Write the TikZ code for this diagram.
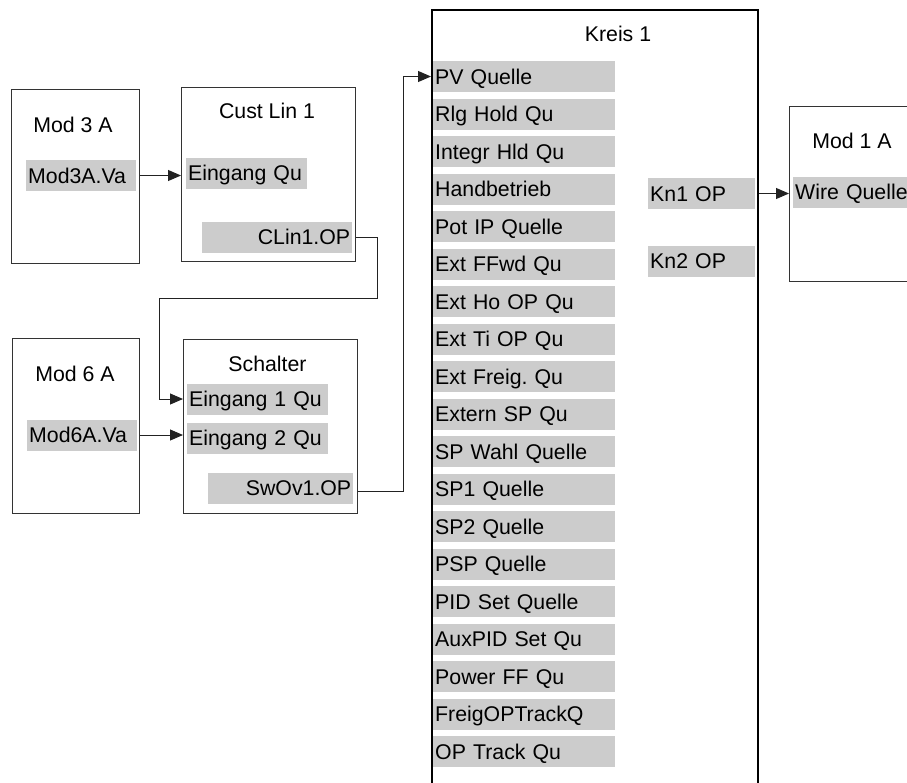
\documentclass[tikz,border=0pt]{standalone}
\usepackage{fontspec}
\setmainfont{Liberation Sans}
\usetikzlibrary{arrows.meta}
\frenchspacing
\begin{document}
\begin{tikzpicture}[x=1pt,y=1pt,yscale=-1,xscale=1,
  font=\fontsize{21.3}{25}\selectfont,
  block/.style={draw={rgb, 255:red, 51; green, 51; blue, 51}, line width=1pt, anchor=north west, inner sep=0pt},
  field/.style={fill={rgb, 255:red, 204; green, 204; blue, 204}, anchor=west, inner xsep=2pt, inner ysep=0pt, minimum height=31pt, text height=15pt, text depth=0pt, align=left},
  kfield/.style={field, text width=178pt},
  lbl/.style={inner sep=0pt, text height=15pt, text depth=0pt},
  conn/.style={draw={rgb, 255:red, 34; green, 34; blue, 34}, line width=1pt},
  connarr/.style={conn, -{Triangle[length=13pt,width=11pt]}}
]
\useasboundingbox (0,0) rectangle (907,782);
\clip (0,0) rectangle (907,782);

%Shape: Rectangle
\node (mod3) [block, minimum width=128pt, minimum height=174pt] at (11,89) {};
%Shape: Rectangle
\node (clin) [block, minimum width=174pt, minimum height=174pt] at (181,87) {};
%Shape: Rectangle
\node (mod6) [block, minimum width=127pt, minimum height=175pt] at (12,338) {};
%Shape: Rectangle
\node (schalter) [block, minimum width=174pt, minimum height=174pt] at (183,339) {};
%Shape: Rectangle
\node (kreis) [block, draw=black, line width=2pt, minimum width=326pt, minimum height=800pt] at (431,9) {};
%Shape: Rectangle
\node (mod1) [block, minimum width=140pt, minimum height=175pt] at (789,106) {};

% Text Node
\node (mod3lbl) [lbl] at (73,124.5) {Mod 3 A};
% Text Node
\node (clinlbl) [lbl] at (267,110.5) {Cust Lin 1};
% Text Node
\node (mod6lbl) [lbl] at (75,374) {Mod 6 A};
% Text Node
\node (schalterlbl) [lbl] at (267.5,363.5) {Schalter};
% Text Node
\node (kreislbl) [lbl] at (618,33.5) {Kreis 1};
% Text Node
\node (mod1lbl) [lbl] at (852,140.5) {Mod 1 A};

% Fields
\node (m3va) [field, text width=106pt] at (26,175.5) {Mod3A.Va};
\node (clinin) [field, text width=117pt] at (186,173) {Eingang Qu};
\node (clinop) [field, text width=146pt, align=right] at (202,237) {CLin1.OP};
\node (m6va) [field, text width=106pt] at (27,435) {Mod6A.Va};
\node (swin1) [field, text width=137pt] at (187,399) {Eingang 1 Qu};
\node (swin2) [field, text width=137pt] at (187,438) {Eingang 2 Qu};
\node (swop) [field, text width=141pt, align=right] at (208,488) {SwOv1.OP};
\node (kn1) [field, text width=103pt] at (648,193.5) {Kn1 OP};
\node (kn2) [field, text width=103pt] at (648,261) {Kn2 OP};
\node (wireq) [field, text width=123pt] at (793,192) {Wire Quelle};

% Kreis 1 fields
\node (pvq) [kfield] at (433,76.5) {PV Quelle};
\node (rlg) [kfield] at (433,114) {Rlg Hold Qu};
\node (integr) [kfield] at (433,151.5) {Integr Hld Qu};
\node (hand) [kfield] at (433,189) {Handbetrieb};
\node (potip) [kfield] at (433,226.5) {Pot IP Quelle};
\node (extffwd) [kfield] at (433,264) {Ext FFwd Qu};
\node (extho) [kfield] at (433,301.5) {Ext Ho OP Qu};
\node (extti) [kfield] at (433,339) {Ext Ti OP Qu};
\node (extfreig) [kfield] at (433,376.5) {Ext Freig. Qu};
\node (externsp) [kfield] at (433,414) {Extern SP Qu};
\node (spwahl) [kfield] at (433,451.5) {SP Wahl Quelle};
\node (spone) [kfield] at (433,489) {SP1 Quelle};
\node (sptwo) [kfield] at (433,526.5) {SP2 Quelle};
\node (psp) [kfield] at (433,564) {PSP Quelle};
\node (pidset) [kfield] at (433,601.5) {PID Set Quelle};
\node (auxpid) [kfield] at (433,639) {AuxPID Set Qu};
\node (powerff) [kfield] at (433,676.5) {Power FF Qu};
\node (freigop) [kfield] at (433,714) {FreigOPTrackQ};
\node (optrack) [kfield] at (433,751.5) {OP Track Qu};

% Bends
\coordinate (jogA) at (377,298);
\coordinate (jogB) at (159,298);
\coordinate (jogC) at (403,491);

%Straight Lines
\draw [connarr] (mod3.east |- m3va) -- (clin.west |- m3va);
%Straight Lines
\draw [connarr] (clin.east |- clinop) -| (jogA) -- (jogB) |- (schalter.west |- swin1);
%Straight Lines
\draw [connarr] (mod6.east |- m6va) -- (schalter.west |- m6va);
%Straight Lines
\draw [connarr] (schalter.east |- jogC) -- (jogC) |- (kreis.west |- pvq);
%Straight Lines
\draw [connarr] (kreis.east |- kn1) -- (mod1.west |- kn1);
\end{tikzpicture}
\end{document}
